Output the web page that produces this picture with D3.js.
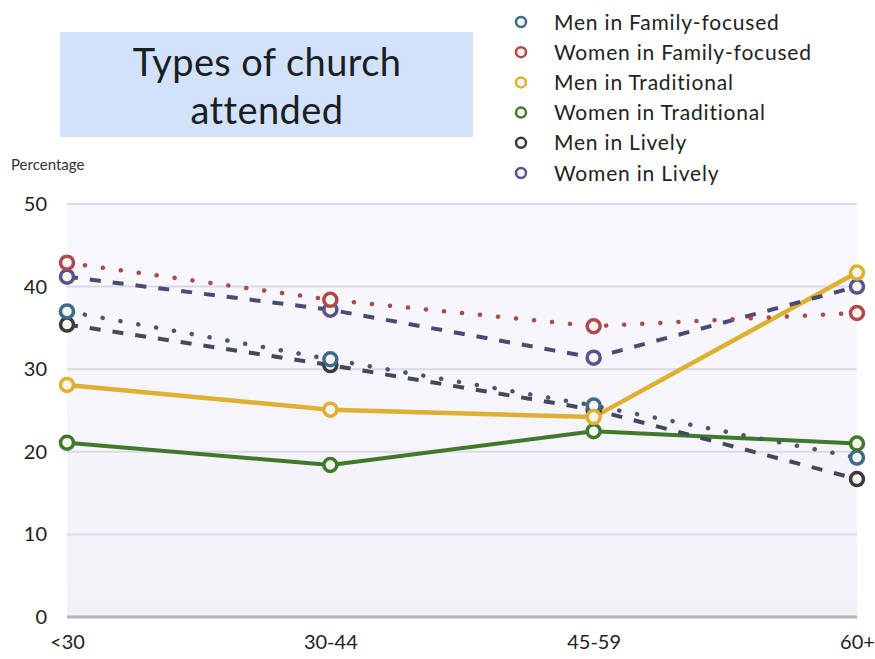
<!DOCTYPE html>
<html>
<head>
<meta charset="utf-8">
<script src="https://cdn.jsdelivr.net/npm/d3@7"></script>
<style>
  html, body { margin: 0; padding: 0; background: #ffffff; }
  svg { display: block; }
</style>
</head>
<body>
<svg id="chart" width="875" height="659"></svg>
<script>
// Age groups along the x axis
const ageGroups = ["<30", "30-44", "45-59", "60+"];
const yTicks = [0, 10, 20, 30, 40, 50];

// Percentage attending each type of church, by age group
const menFamily     = [37.0, 31.2, 25.6, 19.3];
const womenFamily   = [42.9, 38.4, 35.2, 36.8];
const menTrad       = [28.1, 25.1, 24.2, 41.7];
const womenTrad     = [21.1, 18.4, 22.5, 21.0];
const menLively     = [35.4, 30.5, 25.1, 16.7];
const womenLively   = [41.2, 37.2, 31.4, 40.0];

const seriesNames = [
  "Men in Family-focused", "Women in Family-focused",
  "Men in Traditional", "Women in Traditional",
  "Men in Lively", "Women in Lively"
];

const series = [
  { name: seriesNames[0], values: menFamily,   ring: "#3e6b8c", line: "#4a5670", dash: "0.1,18", cap: "round", width: 4.5 },
  { name: seriesNames[1], values: womenFamily, ring: "#b0474e", line: "#b0474e", dash: "0.1,18", cap: "round", width: 4.5 },
  { name: seriesNames[2], values: menTrad,     ring: "#ddb032", line: "#ddb032", dash: null,     cap: "butt",  width: 4.5 },
  { name: seriesNames[3], values: womenTrad,   ring: "#3e7a2a", line: "#3e7a2a", dash: null,     cap: "butt",  width: 4 },
  { name: seriesNames[4], values: menLively,   ring: "#3b3b3e", line: "#44485c", dash: "11,12",  cap: "butt",  width: 4 },
  { name: seriesNames[5], values: womenLively, ring: "#5a5290", line: "#4c4a74", dash: "11,12",  cap: "butt",  width: 4 }
];

const svg = d3.select("#chart");
const plotLeft = 67, plotRight = 857, plotTop = 204, plotBottom = 617;
const font = "Lato, 'Open Sans', sans-serif";

const x = d3.scalePoint().domain(ageGroups).range([plotLeft, plotRight]);
const y = d3.scaleLinear().domain([0, 50]).range([plotBottom, plotTop]);

const defs = svg.append("defs");
const grad = defs.append("linearGradient")
  .attr("id", "plotBg").attr("x1", 0).attr("y1", 0).attr("x2", 0).attr("y2", 1);
grad.append("stop").attr("offset", "0%").attr("stop-color", "#f8f8fc");
grad.append("stop").attr("offset", "100%").attr("stop-color", "#f1f1f8");

// Plot background
svg.append("rect")
  .attr("x", plotLeft).attr("y", y(50))
  .attr("width", plotRight - plotLeft).attr("height", y(0) - y(50))
  .attr("fill", "url(#plotBg)");

// Horizontal gridlines
svg.append("g")
  .selectAll("line")
  .data(yTicks.filter(d => d > 0))
  .join("line")
  .attr("x1", plotLeft).attr("x2", plotRight)
  .attr("y1", d => y(d)).attr("y2", d => y(d))
  .attr("stroke", "#dadae4").attr("stroke-width", 2);

// Baseline
svg.append("line")
  .attr("x1", plotLeft).attr("x2", plotRight)
  .attr("y1", y(0)).attr("y2", y(0))
  .attr("stroke", "#b4b4b8").attr("stroke-width", 3);

// Y axis labels
const yAxis = d3.axisLeft(y).tickValues(yTicks).tickSize(0).tickPadding(0);
const gy = svg.append("g").attr("transform", `translate(${plotLeft - 20},0)`).call(yAxis);
gy.select(".domain").remove();
gy.selectAll("text")
  .attr("font-family", font)
  .attr("font-size", 20).attr("fill", "#222");

// X axis labels
const xAxis = d3.axisBottom(x).tickSize(0).tickPadding(0);
const gx = svg.append("g").attr("transform", `translate(0,${y(0) + 18})`).call(xAxis);
gx.select(".domain").remove();
gx.selectAll("text")
  .attr("font-family", font)
  .attr("font-size", 20).attr("fill", "#222");

// "Percentage" label
svg.append("text")
  .attr("x", 11).attr("y", 170)
  .attr("font-family", font)
  .attr("font-size", 15).attr("fill", "#333")
  .text("Percentage");

// Lines
const line = d3.line()
  .x((d, i) => x(ageGroups[i]))
  .y(d => y(d));

const lineOrder = [3, 2, 4, 0, 5, 1];
svg.append("g")
  .selectAll("path")
  .data(lineOrder.map(i => series[i]))
  .join("path")
  .attr("d", s => line(s.values))
  .attr("fill", "none")
  .attr("stroke", s => s.line)
  .attr("stroke-width", s => s.width)
  .attr("stroke-dasharray", s => s.dash)
  .attr("stroke-linecap", s => s.cap)
  .attr("stroke-linejoin", "round");

// Markers: hollow rings
const markerOrder = [4, 5, 0, 1, 3, 2];
const mg = svg.append("g");
markerOrder.forEach(i => {
  const s = series[i];
  mg.append("g").selectAll("circle")
    .data(s.values)
    .join("circle")
    .attr("cx", (d, k) => x(ageGroups[k]))
    .attr("cy", d => y(d))
    .attr("r", 6.5)
    .attr("fill", "#f4f6ee")
    .attr("stroke", s.ring)
    .attr("stroke-width", 3.5);
});

// Title box
svg.append("rect")
  .attr("x", 60).attr("y", 32).attr("width", 413).attr("height", 105)
  .attr("fill", "#d2e2fa");
const title = svg.append("text")
  .attr("text-anchor", "middle")
  .attr("font-family", font)
  .attr("font-size", 38).attr("letter-spacing", 0.4).attr("fill", "#1a1d22");
title.append("tspan").attr("x", 267).attr("y", 76).text("Types of church");
title.append("tspan").attr("x", 267).attr("y", 124).text("attended");

// Legend
const legend = svg.append("g");
const rows = legend.selectAll("g")
  .data(series)
  .join("g")
  .attr("transform", (d, i) => `translate(0,${22 + i * 30.2})`);
rows.append("circle")
  .attr("cx", 521).attr("cy", 0).attr("r", 5)
  .attr("fill", "#f4f6ee")
  .attr("stroke", d => d.ring).attr("stroke-width", 2.5);
rows.append("text")
  .attr("x", 554).attr("y", 7.5)
  .attr("font-family", font)
  .attr("font-size", 21).attr("letter-spacing", 0.8).attr("fill", "#222")
  .text(d => d.name);
</script>
</body>
</html>
